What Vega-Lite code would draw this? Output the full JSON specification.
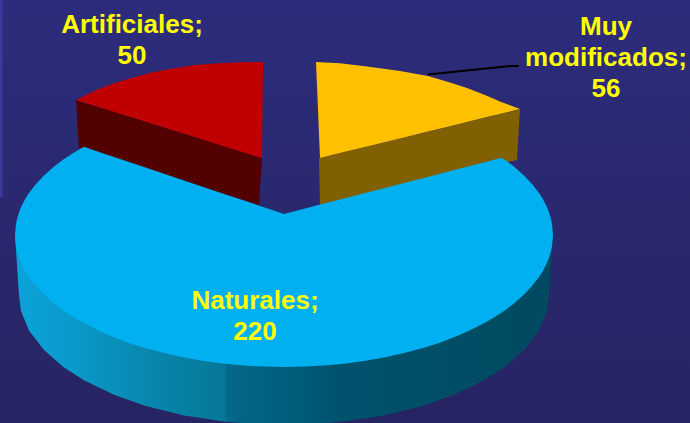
{"$schema":"https://vega.github.io/schema/vega-lite/v6.json","width":690,"height":423,"padding":0,"autosize":{"type":"fit","contains":"padding"},"background":"#2a2870","config":{"view":{"stroke":null}},
"datasets":{
"fondo":[{"x":0,"y":0,"y2":423},{"x":690,"y":0,"y2":423}],
"franja":[{"x":0,"y":0,"y2":197},{"x":2.5,"y":0,"y2":197}],
"rojoLado":[{"x":76,"y":100,"y2":100},{"x":79,"y":101,"y2":148},{"x":259,"y":157,"y2":205},{"x":262,"y":158,"y2":158}],
"rojo":[{"x":76,"y":100,"y2":100},{"x":88,"y":94,"y2":103.7},{"x":100,"y":88.5,"y2":107.5},{"x":115,"y":83,"y2":112.2},{"x":133,"y":77.5,"y2":117.8},{"x":152,"y":72.5,"y2":123.7},{"x":173,"y":68.5,"y2":130.3},{"x":195,"y":65,"y2":137.1},{"x":215,"y":63.5,"y2":143.4},{"x":240,"y":62.3,"y2":151.2},{"x":262,"y":62,"y2":158},{"x":263,"y":62,"y2":62}],
"amarilloLado":[{"x":319,"y":158,"y2":158},{"x":320,"y":158,"y2":205},{"x":517,"y":110,"y2":160},{"x":520,"y":109,"y2":109}],
"amarillo":[{"x":316,"y":62,"y2":62},{"x":320,"y":62.3,"y2":158},{"x":340,"y":63.2,"y2":153.1},{"x":367,"y":66.5,"y2":146.5},{"x":400,"y":71,"y2":138.4},{"x":428,"y":76,"y2":131.5},{"x":450,"y":82.5,"y2":126.2},{"x":467,"y":88,"y2":122},{"x":485,"y":95,"y2":117.6},{"x":500,"y":101.5,"y2":113.9},{"x":520,"y":109,"y2":109}],
"azulLado":[{"x":15,"y":235,"y2":235},{"x":19,"y":235,"y2":295},{"x":21,"y":235,"y2":311},{"x":29,"y":235,"y2":330.4},{"x":44,"y":235,"y2":350},{"x":64,"y":235,"y2":367.5},{"x":84,"y":235,"y2":380.3},{"x":114,"y":235,"y2":394.7},{"x":144,"y":235,"y2":405.4},{"x":184,"y":235,"y2":415.4},{"x":224,"y":235,"y2":421.6},{"x":264,"y":235,"y2":424.6},{"x":304,"y":235,"y2":424.6},{"x":344,"y":235,"y2":421.6},{"x":384,"y":235,"y2":415.4},{"x":424,"y":235,"y2":405.4},{"x":454,"y":235,"y2":394.7},{"x":484,"y":235,"y2":380.3},{"x":504,"y":235,"y2":367.5},{"x":524,"y":235,"y2":350},{"x":539,"y":235,"y2":330.4},{"x":547,"y":235,"y2":311},{"x":549,"y":235,"y2":295},{"x":553,"y":235,"y2":235}],
"azul":[{"x":15,"y":235,"y2":235},{"x":16,"y":223.7,"y2":246.3},{"x":17,"y":219,"y2":251},{"x":19,"y":212.3,"y2":257.7},{"x":21,"y":207.3,"y2":262.7},{"x":25,"y":199.3,"y2":270.7},{"x":29,"y":193,"y2":277},{"x":36,"y":184,"y2":286},{"x":44,"y":175.4,"y2":294.6},{"x":54,"y":166.5,"y2":303.5},{"x":64,"y":159,"y2":311},{"x":74,"y":152.5,"y2":317.5},{"x":84,"y":146.7,"y2":323.3},{"x":99,"y":152,"y2":330.8},{"x":114,"y":157,"y2":337.3},{"x":129,"y":162,"y2":342.9},{"x":144,"y":167,"y2":347.7},{"x":164,"y":173.7,"y2":353.1},{"x":184,"y":180.5,"y2":357.5},{"x":204,"y":187.2,"y2":361},{"x":224,"y":194,"y2":363.7},{"x":244,"y":200.6,"y2":365.5},{"x":264,"y":207.3,"y2":366.6},{"x":284,"y":214,"y2":367},{"x":304,"y":208.8,"y2":366.6},{"x":324,"y":203.6,"y2":365.5},{"x":344,"y":198.5,"y2":363.7},{"x":364,"y":193.3,"y2":361},{"x":384,"y":188.2,"y2":357.5},{"x":404,"y":183,"y2":353.1},{"x":424,"y":177.9,"y2":347.7},{"x":439,"y":174,"y2":342.9},{"x":454,"y":170.1,"y2":337.3},{"x":469,"y":166.2,"y2":330.8},{"x":484,"y":162.4,"y2":323.3},{"x":494,"y":159.8,"y2":317.5},{"x":501,"y":158,"y2":313},{"x":504,"y":159,"y2":311},{"x":514,"y":166.5,"y2":303.5},{"x":524,"y":175.4,"y2":294.6},{"x":532,"y":184,"y2":286},{"x":539,"y":193,"y2":277},{"x":543,"y":199.3,"y2":270.7},{"x":547,"y":207.3,"y2":262.7},{"x":549,"y":212.3,"y2":257.7},{"x":551,"y":219,"y2":251},{"x":552,"y":223.7,"y2":246.3},{"x":553,"y":235,"y2":235}],
"guia":[{"x":428,"y":74.5},{"x":510,"y":66},{"x":519,"y":66}],
"etiquetas":[{"categoria":"Artificiales","valor":50,"texto":"Artificiales;\n50","x":132,"y":33},{"categoria":"Muy modificados","valor":56,"texto":"Muy\nmodificados;\n56","x":606,"y":35},{"categoria":"Naturales","valor":220,"texto":"Naturales;\n220","x":255,"y":309}]
},
"encoding":{"x":{"field":"x","type":"quantitative","axis":null,"scale":{"domain":[0,690],"nice":false,"zero":false}},"y":{"field":"y","type":"quantitative","axis":null,"stack":null,"scale":{"domain":[423,0],"nice":false,"zero":false}}},
"layer":[
{"data":{"name":"fondo"},"mark":{"type":"area","color":{"gradient":"linear","x1":0,"x2":0,"y1":0,"y2":1,"stops":[{"offset":0,"color":"#2d2c7c"},{"offset":1,"color":"#262462"}]}},"encoding":{"y2":{"field":"y2"}}},
{"data":{"name":"franja"},"mark":{"type":"area","color":"#3a3a9c"},"encoding":{"y2":{"field":"y2"}}},
{"data":{"name":"rojoLado"},"mark":{"type":"area","color":"#520000"},"encoding":{"y2":{"field":"y2"}}},
{"data":{"name":"rojo"},"mark":{"type":"area","color":"#c00000"},"encoding":{"y2":{"field":"y2"}}},
{"data":{"name":"amarilloLado"},"mark":{"type":"area","color":"#806000"},"encoding":{"y2":{"field":"y2"}}},
{"data":{"name":"amarillo"},"mark":{"type":"area","color":"#ffc000"},"encoding":{"y2":{"field":"y2"}}},
{"data":{"name":"azulLado"},"mark":{"type":"area","clip":true,"color":{"gradient":"linear","x1":0,"x2":1,"y1":0,"y2":0,"stops":[{"offset":0,"color":"#0ba3da"},{"offset":0.084,"color":"#0a9ccf"},{"offset":0.25,"color":"#0887ae"},{"offset":0.39,"color":"#067796"},{"offset":0.395,"color":"#04688a"},{"offset":0.53,"color":"#005b78"},{"offset":0.61,"color":"#00526c"},{"offset":1,"color":"#004a60"}]}},"encoding":{"y2":{"field":"y2"}}},
{"data":{"name":"azul"},"mark":{"type":"area","color":"#00b0f0"},"encoding":{"y2":{"field":"y2"}}},
{"data":{"name":"guia"},"mark":{"type":"line","color":"#000000","strokeWidth":2},"encoding":{}},
{"data":{"name":"etiquetas"},"mark":{"type":"text","font":"Liberation Sans","fontWeight":"bold","fontSize":26,"color":"#ffff00","align":"center","baseline":"alphabetic","lineBreak":"\n","lineHeight":31},"encoding":{"text":{"field":"texto"}}}
]}
